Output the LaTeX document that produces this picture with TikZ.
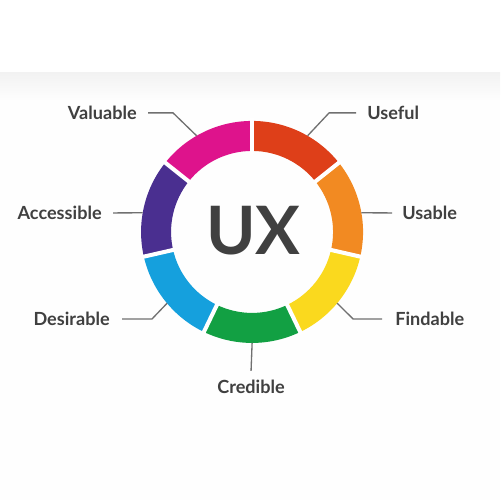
\documentclass[tikz,border=0pt]{standalone}
\usepackage{fontspec}
\setmainfont{Lato}
\usetikzlibrary{positioning,calc}
\definecolor{uxred}{HTML}{DE3F19}
\definecolor{uxorange}{HTML}{F28A22}
\definecolor{uxyellow}{HTML}{FAD91E}
\definecolor{uxgreen}{HTML}{12A043}
\definecolor{uxblue}{HTML}{15A0DD}
\definecolor{uxpurple}{HTML}{4A2F90}
\definecolor{uxmagenta}{HTML}{DE138C}
\definecolor{uxtext}{HTML}{404040}
\definecolor{uxline}{HTML}{707070}

\begin{document}
\begin{tikzpicture}
    [
      scale=0.02,
      font=\fontsize{10.3}{12}\selectfont\bfseries,
      my label/.style={inner sep=0pt, text=uxtext},
      my leader/.style={draw=uxline, line width=0.75pt},
      my gap/.style={draw=white, line width=2.3pt}
    ]
    \useasboundingbox (0,0) rectangle (500,500);
    \fill [white] (0,0) rectangle (500,500);
    \fill [gray!1] (0,0) rectangle (500,400);
    \shade [top color=gray!10, bottom color=gray!1] (0,400) rectangle (500,427);
    \coordinate (c) at (252,268);
    % ring
    \foreach \col [count=\i from 0] in {uxgreen,uxyellow,uxorange,uxred,uxmagenta,uxpurple,uxblue}
      \fill [\col] ($(c)+(-115.714+\i*51.429:111)$) arc [start angle=-115.714+\i*51.429, delta angle=51.429, radius=111]
        -- ($(c)+(-64.286+\i*51.429:81)$) arc [start angle=-64.286+\i*51.429, delta angle=-51.429, radius=81] -- cycle;
    \foreach \a in {-115.714,-64.286,-12.857,38.571,90,141.429,192.857}
      \draw [my gap] ($(c)+(\a:78)$) -- ($(c)+(\a:114)$);
    \node (ux) at (253.5,269) [font=\fontsize{38}{40}\selectfont\bfseries, text=uxtext] {UX};
    % labels
    \node (valuable) [my label, anchor=east] at (137,387) {Valuable};
    \node (useful) [my label, anchor=west] at (367,387) {Useful};
    \node (accessible) [my label, anchor=east] at (102,287) {Accessible};
    \node (usable) [my label, anchor=west] at (402,287) {Usable};
    \node (desirable) [my label, anchor=east] at (110,181) {Desirable};
    \node (findable) [my label, anchor=west] at (395,181) {Findable};
    \node (credible) [my label] at (251,113) {Credible};
    % leaders
    \coordinate (p val) at ($(c)+(120:111)$);
    \coordinate (p use) at ($(c)+(60:111)$);
    \coordinate (p acc) at ($(c)+(170.1:111)$);
    \coordinate (p usa) at ($(c)+(9.9:111)$);
    \coordinate (p des) at ($(c)+(220:111)$);
    \coordinate (p fin) at ($(c)+(-40:111)$);
    \coordinate (p cre) at ($(c)+(-90:111)$);
    \draw [my leader] ($(valuable.east)+(11,0)$) -- ++(25,0) -- (p val);
    \draw [my leader] ($(useful.west)+(-11,0)$) -- ++(-27,0) -- (p use);
    \draw [my leader] ($(accessible.east)+(11,0)$) -- (p acc);
    \draw [my leader] ($(usable.west)+(-10,0)$) -- (p usa);
    \draw [my leader] ($(desirable.east)+(12,0)$) -- ++(30,0) -- (p des);
    \draw [my leader] ($(findable.west)+(-13,0)$) -- ++(-29,0) -- (p fin);
    \draw [my leader] ($(credible.north)+(0,9)$) -- (p cre);
  \end{tikzpicture}
\end{document}
